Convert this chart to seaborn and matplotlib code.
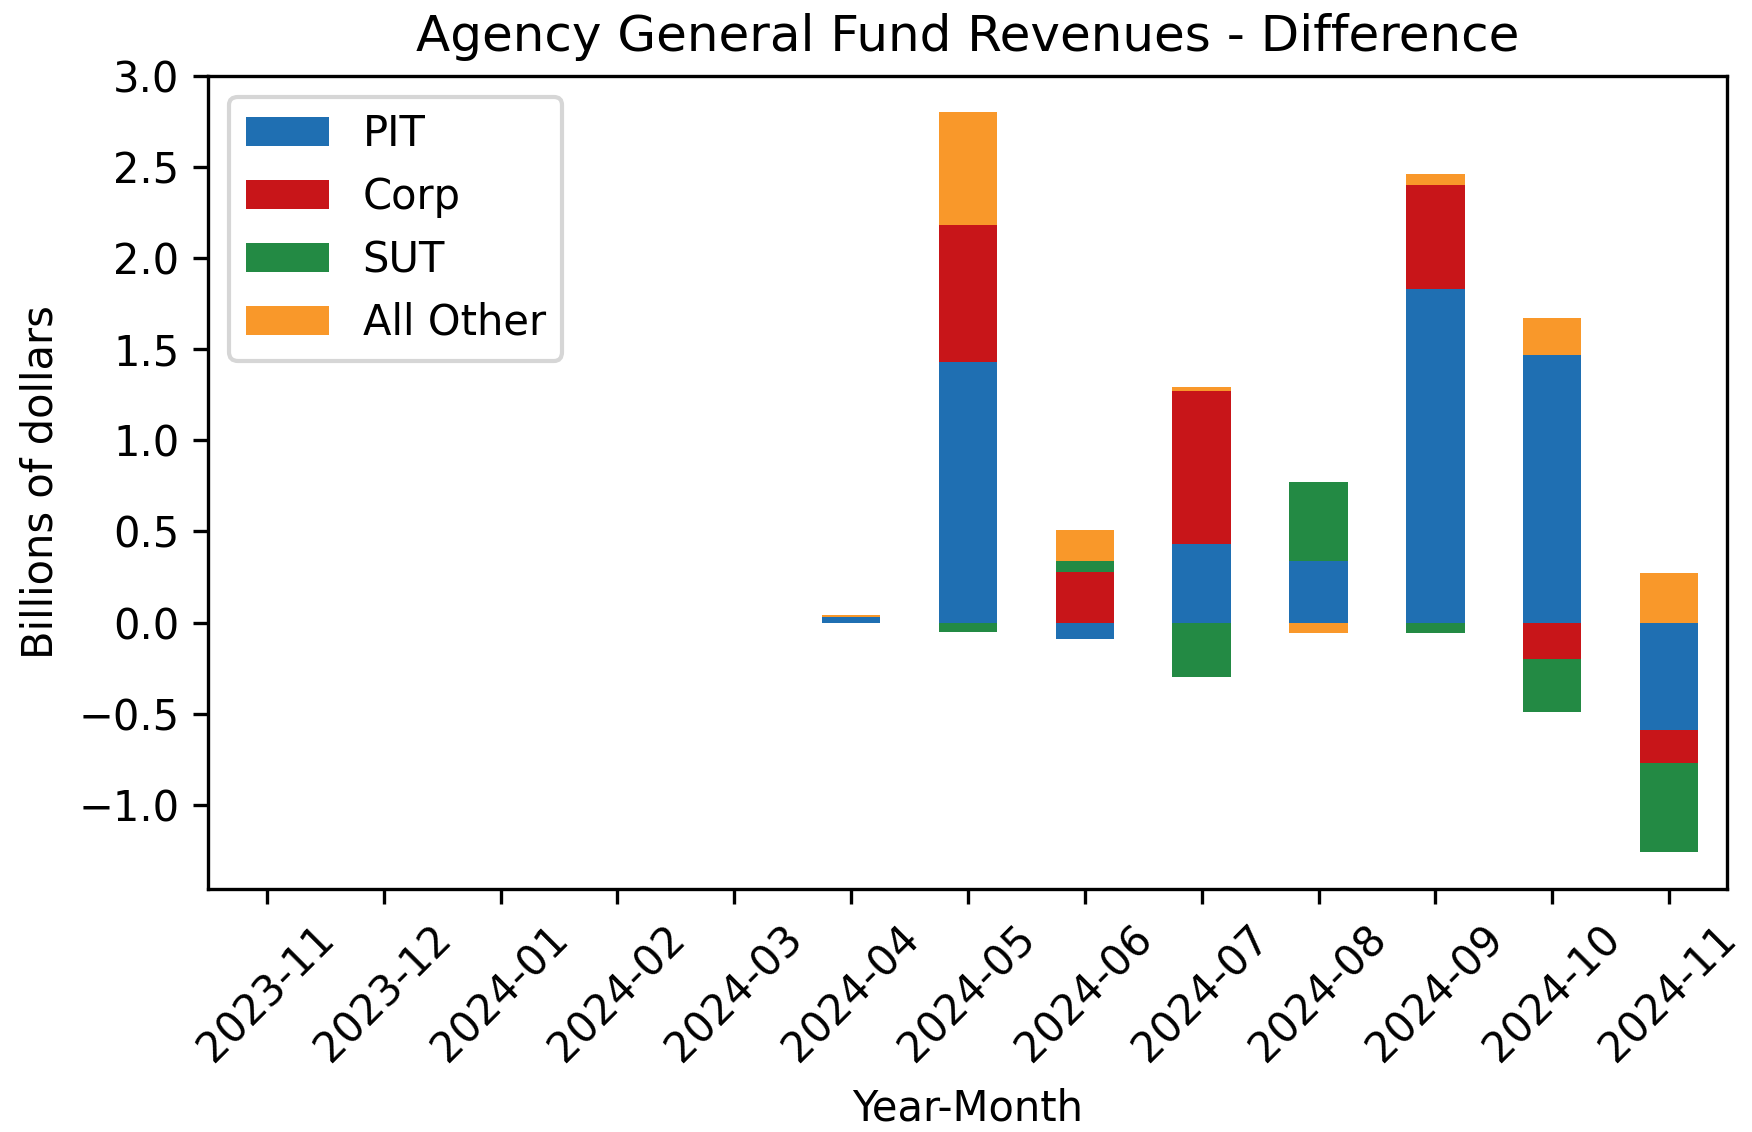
import pandas as pd
import matplotlib
matplotlib.use("Agg")
import matplotlib.pyplot as plt
import seaborn as sns

# Values (billions of dollars)
months = ['2023-11', '2023-12', '2024-01', '2024-02', '2024-03', '2024-04', '2024-05',
          '2024-06', '2024-07', '2024-08', '2024-09', '2024-10', '2024-11']
pit = [0, 0, 0, 0, 0, 0.03, 1.43, -0.09, 0.43, 0.34, 1.83, 1.47, -0.59]
corp = [0, 0, 0, 0, 0, 0.0, 0.75, 0.28, 0.84, 0.0, 0.57, -0.20, -0.18]
sut = [0, 0, 0, 0, 0, 0.0, -0.05, 0.06, -0.30, 0.43, -0.06, -0.29, -0.49]
all_other = [0, 0, 0, 0, 0, 0.01, 0.62, 0.17, 0.025, -0.06, 0.06, 0.20, 0.27]

series_names = ['PIT', 'Corp', 'SUT', 'All Other']
colors = ['#1f6fb2', '#c81519', '#238a44', '#f9982a']

sns.set_style('ticks', {'axes.edgecolor': 'black', 'xtick.color': 'black',
                        'ytick.color': 'black', 'text.color': 'black',
                        'axes.labelcolor': 'black'})
plt.rcParams['font.family'] = ['DejaVu Sans']

diff = pd.DataFrame({'PIT': pit, 'Corp': corp, 'SUT': sut, 'All Other': all_other},
                    index=months)[series_names]

fig, ax = plt.subplots(figsize=(1752 / 300, 1132 / 300), dpi=300)
diff.plot(kind='bar', stacked=True, ax=ax, color=colors, width=0.5, rot=45, linewidth=0)

ax.set_title('Agency General Fund Revenues - Difference', fontsize=12)
ax.set_xlabel('Year-Month', fontsize=10)
ax.set_ylabel('Billions of dollars', fontsize=10)
ax.tick_params(labelsize=10)
ax.set_ylim(-1.46, 3.0)
ax.legend(loc='upper left', fontsize=10)
for side in ['top', 'right', 'left', 'bottom']:
    ax.spines[side].set_visible(True)
    ax.spines[side].set_linewidth(0.8)

fig.subplots_adjust(left=0.119, right=0.986, top=0.933, bottom=0.215)
fig.savefig('out.png', dpi=300)
